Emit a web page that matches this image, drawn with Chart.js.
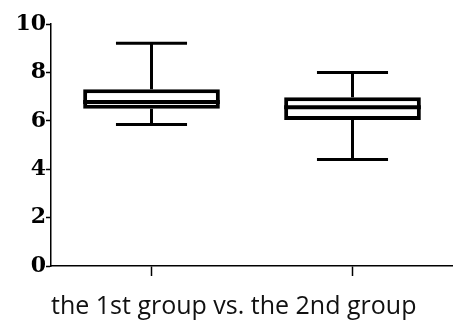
<!DOCTYPE html>
<html>
<head>
<meta charset="utf-8">
<script src="https://cdn.jsdelivr.net/npm/chart.js@4/dist/chart.umd.min.js"></script>
<style>
  html, body { margin: 0; padding: 0; background: #fff; }
  #wrap { width: 453px; height: 322px; }
</style>
</head>
<body>
<div id="wrap"><canvas id="box"></canvas></div>
<script>
'use strict';

let groups = ['1st', '2nd'],
  mins = [5.85, 4.4],
  q1s = [6.5, 6.03],
  medians = [6.78, 6.56],
  q3s = [7.3, 6.97],
  maxs = [9.2, 8.0],
  yTicks = [0, 2, 4, 6, 8, 10];

// whiskers + median drawn on top of the floating bars
const whiskerPlugin = {
  id: 'whiskers',
  afterDatasetsDraw(chart) {
    let ctx = chart.ctx,
      x = chart.scales.x,
      y = chart.scales.y,
      meta = chart.getDatasetMeta(0);

    ctx.save();
    ctx.strokeStyle = '#000';
    ctx.lineCap = 'butt';
    groups.forEach((g, i) => {
      let cx = x.getPixelForValue(i),
        bar = meta.data[i],
        half = bar.width / 2,
        cap = bar.width * 0.26;

      ctx.lineWidth = 3;
      ctx.beginPath();
      ctx.moveTo(cx, y.getPixelForValue(q3s[i]));
      ctx.lineTo(cx, y.getPixelForValue(maxs[i]));
      ctx.moveTo(cx, y.getPixelForValue(q1s[i]));
      ctx.lineTo(cx, y.getPixelForValue(mins[i]));
      ctx.moveTo(cx - cap, y.getPixelForValue(maxs[i]));
      ctx.lineTo(cx + cap, y.getPixelForValue(maxs[i]));
      ctx.moveTo(cx - cap, y.getPixelForValue(mins[i]));
      ctx.lineTo(cx + cap, y.getPixelForValue(mins[i]));
      ctx.stroke();

      ctx.lineWidth = 4;
      ctx.beginPath();
      ctx.moveTo(cx - half, y.getPixelForValue(medians[i]));
      ctx.lineTo(cx + half, y.getPixelForValue(medians[i]));
      ctx.stroke();
    });
    ctx.restore();
  }
};

function buildBoxChart() {
  let ctx = document.getElementById('box');

  new Chart(ctx, {
    type: 'bar',
    data: {
      labels: groups,
      datasets: [{
        data: groups.map((g, i) => [q1s[i], q3s[i]]),
        backgroundColor: '#fff',
        borderColor: '#000',
        borderWidth: 4,
        borderSkipped: false,
        barPercentage: 0.68,
        categoryPercentage: 1
      }]
    },
    options: {
      responsive: true,
      maintainAspectRatio: false,
      animation: false,
      layout: {padding: {top: 24, right: 0, bottom: 0, left: 0}},
      plugins: {
        legend: {display: false},
        tooltip: {enabled: false}
      },
      scales: {
        x: {
          offset: true,
          grid: {
            display: true,
            drawOnChartArea: false,
            drawTicks: true,
            tickLength: 10,
            tickWidth: 1.5,
            tickColor: '#000',
            offset: false
          },
          border: {display: true, color: '#000', width: 1.5},
          ticks: {display: false},
          title: {
            display: true,
            align: 'start',
            text: 'the 1st group vs. the 2nd group',
            color: '#111',
            font: {family: 'Open Sans', size: 25},
            padding: {top: 6, bottom: 0}
          },
          afterFit(scale) { scale.height = 56; }
        },
        y: {
          min: 0,
          max: 10,
          afterBuildTicks(scale) { scale.ticks = yTicks.map(v => ({value: v})); },
          grid: {
            drawOnChartArea: false,
            tickLength: 5,
            tickWidth: 1.5,
            tickColor: '#000'
          },
          border: {display: true, color: '#000', width: 1.5},
          ticks: {
            color: '#000',
            padding: 0,
            font: {family: 'DejaVu Serif', size: 22, weight: 'bold'}
          },
          afterFit(scale) { scale.width = 51; }
        }
      }
    },
    plugins: [whiskerPlugin]
  });
}

buildBoxChart();
</script>
</body>
</html>
